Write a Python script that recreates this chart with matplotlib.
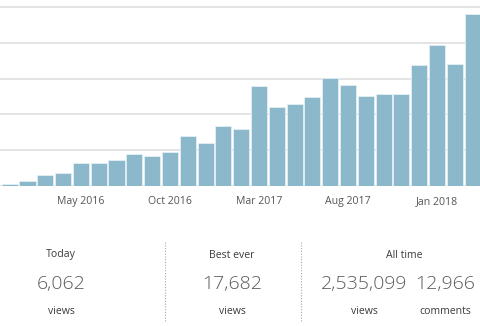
import numpy as np
import matplotlib.pyplot as plt

# Monthly views, Jan 2016 .. Mar 2018
months = ['Jan 2016', 'Feb 2016', 'Mar 2016', 'Apr 2016', 'May 2016', 'Jun 2016',
          'Jul 2016', 'Aug 2016', 'Sep 2016', 'Oct 2016', 'Nov 2016', 'Dec 2016',
          'Jan 2017', 'Feb 2017', 'Mar 2017', 'Apr 2017', 'May 2017', 'Jun 2017',
          'Jul 2017', 'Aug 2017', 'Sep 2017', 'Oct 2017', 'Nov 2017', 'Dec 2017',
          'Jan 2018', 'Feb 2018', 'Mar 2018']
views = [2800, 6500, 15300, 18500, 31500, 32000, 35700, 44400, 42100, 47200,
         69400, 59700, 84300, 80100, 139900, 110100, 113900, 125000, 151400,
         141300, 126000, 128700, 127800, 168500, 197600, 170400, 239900]
tick_months = ['May 2016', 'Oct 2016', 'Mar 2017', 'Aug 2017', 'Jan 2018']

# Summary blocks
summary_titles = ['Today', 'Best ever', 'All time']
summary_values = ['6,062', '17,682', '2,535,099', '12,966']
summary_units = ['views', 'views', 'views', 'comments']

W, H = 480, 326
fig = plt.figure(figsize=(W / 100, H / 100), dpi=100)
plt.rcParams['font.family'] = ['Open Sans', 'DejaVu Sans']

# chart area spans the full width, from the top down to y=186 px
ax = fig.add_axes([0, (H - 186) / H, 1, 186 / H])
x = np.arange(len(months))
ax.bar(x, views, width=0.9, color='#8cb8cc', edgecolor='#e4eff4', linewidth=0.6, zorder=2)
ax.set_xlim(-0.545, 26.42)
ax.set_ylim(0, 250000 * 186 / 179)
ax.set_yticks([0, 50000, 100000, 150000, 200000, 250000])
ax.yaxis.grid(True, color='#dcdcdc', linewidth=1.1, zorder=0)
ax.tick_params(axis='y', length=0, labelleft=False)
for s in ax.spines.values():
    s.set_visible(False)

ax.set_xticks([months.index(m) for m in tick_months])
ax.set_xticklabels(tick_months, fontsize=7.6, color='#555555')
ax.tick_params(axis='x', length=0, pad=7)

# summary row under the chart
def fy(py):
    return 1 - py / H

def fx(px):
    return px / W

title_x = [61, 232, 404]
value_x = [61, 232, 364, 445]
for t, px in zip(summary_titles, title_x):
    fig.text(fx(px), fy(255), t, ha='center', va='center', fontsize=7.6, color='#3c3c3c')
for v, px in zip(summary_values, value_x):
    fig.text(fx(px), fy(284), v, ha='center', va='center', fontsize=14,
             color='#5a5a5a', fontweight='light')
for u, px in zip(summary_units, value_x):
    fig.text(fx(px), fy(311), u, ha='center', va='center', fontsize=7.6, color='#3c3c3c')

# dotted separators between the blocks
for px in [164.5, 300.5]:
    fig.add_artist(plt.Line2D([fx(px), fx(px)], [fy(242), fy(321)], color='#a8a8a8',
                              linewidth=0.8, linestyle=(0, (1, 1.5))))

fig.savefig('out.png', dpi=100)
